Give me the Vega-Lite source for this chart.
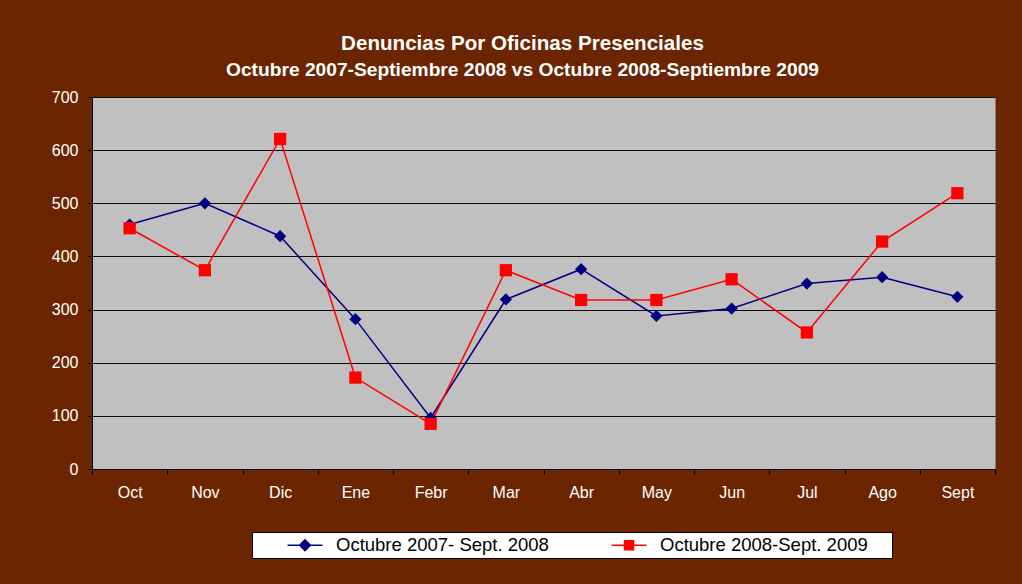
{
  "$schema": "https://vega.github.io/schema/vega-lite/v6.json",
  "autosize": "none",
  "width": 903,
  "height": 372,
  "padding": {"left": 92, "top": 97, "right": 27, "bottom": 115},
  "background": "#6b2500",
  "title": {
    "text": "Denuncias Por Oficinas Presenciales",
    "subtitle": "Octubre 2007-Septiembre 2008 vs Octubre 2008-Septiembre 2009",
    "anchor": "middle",
    "frame": "group",
    "dx": -21,
    "offset": 9,
    "font": "Liberation Sans",
    "fontSize": 20.6,
    "fontWeight": "bold",
    "color": "#ffffff",
    "subtitleFont": "Liberation Sans",
    "subtitleFontSize": 19.2,
    "subtitleFontWeight": "bold",
    "subtitleColor": "#ffffff",
    "subtitlePadding": 6
  },
  "data": {
    "values": [
      {"mes": "Oct", "serie": "Octubre 2007- Sept. 2008", "valor": 460},
      {"mes": "Nov", "serie": "Octubre 2007- Sept. 2008", "valor": 500},
      {"mes": "Dic", "serie": "Octubre 2007- Sept. 2008", "valor": 438},
      {"mes": "Ene", "serie": "Octubre 2007- Sept. 2008", "valor": 282},
      {"mes": "Febr", "serie": "Octubre 2007- Sept. 2008", "valor": 96},
      {"mes": "Mar", "serie": "Octubre 2007- Sept. 2008", "valor": 319},
      {"mes": "Abr", "serie": "Octubre 2007- Sept. 2008", "valor": 376},
      {"mes": "May", "serie": "Octubre 2007- Sept. 2008", "valor": 288},
      {"mes": "Jun", "serie": "Octubre 2007- Sept. 2008", "valor": 302},
      {"mes": "Jul", "serie": "Octubre 2007- Sept. 2008", "valor": 349},
      {"mes": "Ago", "serie": "Octubre 2007- Sept. 2008", "valor": 361},
      {"mes": "Sept", "serie": "Octubre 2007- Sept. 2008", "valor": 324},
      {"mes": "Oct", "serie": "Octubre 2008-Sept. 2009", "valor": 453},
      {"mes": "Nov", "serie": "Octubre 2008-Sept. 2009", "valor": 374},
      {"mes": "Dic", "serie": "Octubre 2008-Sept. 2009", "valor": 621},
      {"mes": "Ene", "serie": "Octubre 2008-Sept. 2009", "valor": 172},
      {"mes": "Febr", "serie": "Octubre 2008-Sept. 2009", "valor": 85},
      {"mes": "Mar", "serie": "Octubre 2008-Sept. 2009", "valor": 374},
      {"mes": "Abr", "serie": "Octubre 2008-Sept. 2009", "valor": 318},
      {"mes": "May", "serie": "Octubre 2008-Sept. 2009", "valor": 318},
      {"mes": "Jun", "serie": "Octubre 2008-Sept. 2009", "valor": 357},
      {"mes": "Jul", "serie": "Octubre 2008-Sept. 2009", "valor": 257},
      {"mes": "Ago", "serie": "Octubre 2008-Sept. 2009", "valor": 428},
      {"mes": "Sept", "serie": "Octubre 2008-Sept. 2009", "valor": 519}
    ]
  },
  "encoding": {
    "x": {
      "field": "mes",
      "type": "ordinal",
      "sort": ["Oct", "Nov", "Dic", "Ene", "Febr", "Mar", "Abr", "May", "Jun", "Jul", "Ago", "Sept"],
      "scale": {"type": "band", "paddingInner": 0, "paddingOuter": 0},
      "axis": {
        "title": null,
        "labelAngle": 0,
        "tickBand": "extent",
        "domainColor": "#000000",
        "tickColor": "#000000",
        "tickSize": 5,
        "labelColor": "#ffffff",
        "labelFont": "Liberation Sans",
        "labelFontSize": 16,
        "labelPadding": 10,
        "grid": false
      }
    },
    "y": {
      "field": "valor",
      "type": "quantitative",
      "scale": {"domain": [0, 700], "nice": false},
      "axis": {
        "title": null,
        "values": [0, 100, 200, 300, 400, 500, 600, 700],
        "domainColor": "#000000",
        "tickColor": "#000000",
        "tickSize": 5,
        "labelColor": "#ffffff",
        "labelFont": "Liberation Sans",
        "labelFontSize": 16,
        "labelPadding": 9,
        "grid": true,
        "gridColor": "#0d0d0d",
        "gridWidth": 1
      }
    },
    "color": {
      "field": "serie",
      "type": "nominal",
      "scale": {"range": ["#000080", "#ff0000"]},
      "legend": {
        "orient": "none",
        "legendX": 160,
        "legendY": 435,
        "direction": "horizontal",
        "columns": 2,
        "title": "\u00a0",
        "titleOrient": "left",
        "titleFontSize": 4,
        "titlePadding": 40,
        "fillColor": "#ffffff",
        "strokeColor": "#000000",
        "padding": 3,
        "labelFont": "Liberation Sans",
        "labelFontSize": 18.5,
        "labelColor": "#000000",
        "labelLimit": 400,
        "labelOffset": 21,
        "columnPadding": 59,
        "symbolSize": 324,
        "symbolStrokeWidth": 1.5,
        "labelExpr": "datum.value == 'Octubre 2008-Sept. 2009' ? datum.label + '\u00a0\u00a0\u00a0\u00a0\u2060' : datum.label",
        "encode": {
          "symbols": {
            "update": {
              "shape": {"signal": "datum.value == 'Octubre 2007- Sept. 2008' ? 'M-1.94,0H1.94M0,-0.6L0.6,0L0,0.6L-0.6,0Z' : 'M-1.94,0H1.94M-0.5,-0.5H0.5V0.5H-0.5Z'"},
              "fill": {"signal": "scale('color', datum.value)"},
              "stroke": {"signal": "scale('color', datum.value)"},
              "strokeWidth": {"value": 1.5},
              "opacity": {"value": 1}
            }
          }
        }
      }
    }
  },
  "layer": [
    {
      "mark": {"type": "line", "strokeWidth": 1.5}
    },
    {
      "mark": {"type": "point", "filled": true, "size": 150, "opacity": 1},
      "encoding": {
        "shape": {
          "field": "serie",
          "type": "nominal",
          "scale": {"range": ["diamond", "square"]},
          "legend": null
        }
      }
    }
  ],
  "config": {
    "view": {"fill": "#c0c0c0", "stroke": "#808080", "strokeWidth": 1},
    "font": "Liberation Sans"
  }
}
